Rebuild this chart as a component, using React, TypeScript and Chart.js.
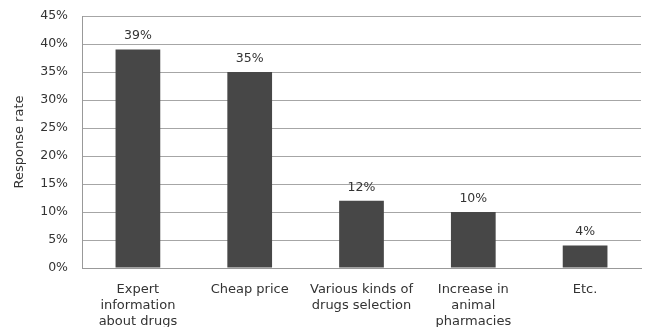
import React, { useEffect, useRef } from "react";
import { Chart, registerables } from "chart.js";

Chart.register(...registerables);

const categories: string[][] = [
  ["Expert", "information", "about drugs"],
  ["Cheap price"],
  ["Various kinds of", "drugs selection"],
  ["Increase in", "animal", "pharmacies"],
  ["Etc."],
];
const responseRates: number[] = [39, 35, 12, 10, 4];
const yTickMax = 45;
const yTickStep = 5;
const yTitle = "Response rate";

const FONT = "'DejaVu Sans', sans-serif";

const valueLabels = {
  id: "valueLabels",
  afterDatasetsDraw(chart: any) {
    const ctx = chart.ctx;
    const meta = chart.getDatasetMeta(0);
    ctx.save();
    ctx.font = `12.5px ${FONT}`;
    ctx.fillStyle = "#333333";
    ctx.textAlign = "center";
    ctx.textBaseline = "middle";
    meta.data.forEach((bar: any, i: number) => {
      ctx.fillText(`${responseRates[i]}%`, bar.x, bar.y - 13.5);
    });
    ctx.restore();
  },
};

export default function App() {
  const ref = useRef<HTMLCanvasElement>(null);
  useEffect(() => {
    document.body.style.margin = "0";
    const chart = new Chart(ref.current!, {
      type: "bar",
      data: {
        labels: categories,
        datasets: [
          {
            data: responseRates,
            backgroundColor: "#474747",
            barPercentage: 0.4,
            categoryPercentage: 1,
          },
        ],
      },
      options: {
        animation: false,
        responsive: false,
        layout: { padding: { top: 16, right: 4, left: 0, bottom: 0 } },
        plugins: { legend: { display: false }, tooltip: { enabled: false } },
        scales: {
          x: {
            grid: { display: false, drawTicks: false },
            border: { display: true, color: "#999999", width: 1 },
            ticks: {
              color: "#333333",
              font: { family: FONT, size: 13, lineHeight: 1.23 },
              padding: 14,
              maxRotation: 0,
              autoSkip: false,
            },
            afterFit: (s: any) => {
              s.height = 59;
              s.paddingLeft = 0;
              s.paddingRight = 0;
            },
          },
          y: {
            min: 0,
            max: yTickMax,
            grid: { color: "#a6a6a6", drawTicks: false },
            border: { display: true, color: "#999999", width: 1 },
            ticks: {
              stepSize: yTickStep,
              color: "#333333",
              font: { family: FONT, size: 12.5 },
              padding: 14,
              callback: (v: any) => `${v}%`,
            },
            title: {
              display: true,
              text: yTitle,
              color: "#333333",
              font: { family: FONT, size: 13 },
              padding: { top: 12, bottom: 0 },
            },
            afterFit: (s: any) => {
              s.width = 82;
              s.paddingTop = 0;
              s.paddingBottom = 0;
            },
          },
        },
      },
      plugins: [valueLabels],
    });
    return () => chart.destroy();
  }, []);
  return <canvas ref={ref} width={645} height={327} />;
}
